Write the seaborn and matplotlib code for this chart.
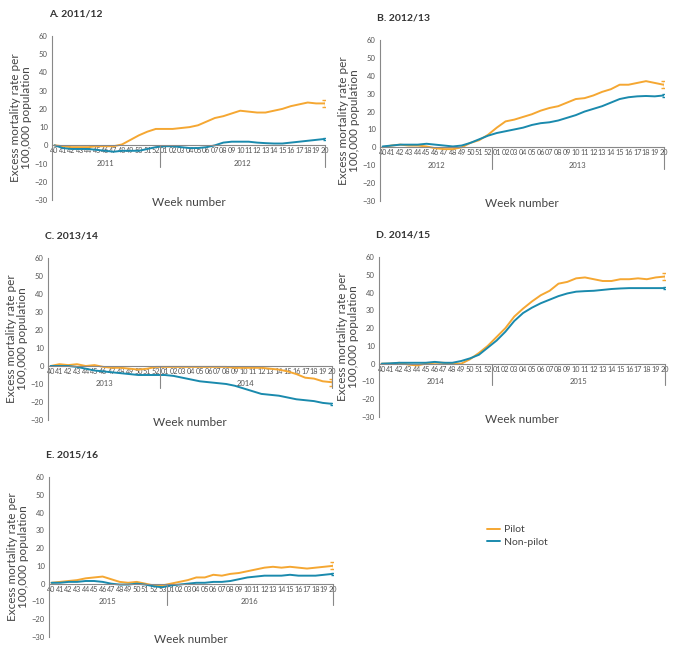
import numpy as np
import pandas as pd
import matplotlib.pyplot as plt
import seaborn as sns

# week labels
weeks_a = [str(w) for w in range(40, 53)] + ["%02d" % w for w in range(1, 21)]
weeks_e = [str(w) for w in range(40, 54)] + ["%02d" % w for w in range(1, 21)]

# excess mortality per 100,000
pilot_a = [0, -0.5, -1, -1, -1, -0.5, -0.5, -0.5, 0.5, 3, 5.5, 7.5, 9,
           9, 9, 9.5, 10, 11, 13, 15, 16, 17.5, 19, 18.5, 18, 18, 19, 20, 21.5, 22.5, 23.5, 23, 23]
nonpilot_a = [0, -1.5, -2, -2, -2, -2.5, -3, -3.5, -3, -3, -3, -2, -1,
              -0.5, -0.5, -1, -1.5, -1.5, -1, 0, 1.5, 2, 2, 2, 1.5, 1.2, 1, 1, 1.5, 2, 2.5, 3, 3.5]

pilot_b = [0, 1, 1.5, 1, 1, 0.5, -0.5, -1, -1, 0, 2.5, 4, 7,
           11, 14.5, 15.5, 17, 18.5, 20.5, 22, 23, 25, 27, 27.5, 29, 31, 32.5, 35, 35, 36, 37, 36, 35]
nonpilot_b = [0.5, 1, 1.5, 1.5, 1.5, 2, 1.5, 1, 0.5, 1, 2.5, 4.5, 6.5,
              8, 9, 10, 11, 12.5, 13.5, 14, 15, 16.5, 18, 20, 21.5, 23, 25, 27, 28, 28.5, 28.7, 28.5, 29]

pilot_c = [0, 1, 0.5, 1, 0, 0.5, -0.5, -1, -1, -1.5, -2, -1.5, -0.5,
           -0.5, -0.5, -0.5, -0.5, -0.5, -0.5, -0.5, -0.5, -1, -1, -1, -1, -1.5, -2, -3, -4.5, -6.5, -7, -8.5, -9]
nonpilot_c = [0, 0, 0, -0.5, -1.5, -2.5, -3, -3.5, -4, -4.5, -5, -5, -5,
              -5, -5.5, -6.5, -7.5, -8.5, -9, -9.5, -10, -11, -12.5, -14, -15.5, -16, -16.5, -17.5, -18.5, -19, -19.5, -20.5, -21]

pilot_d = [0, 0, 0.5, -0.5, -1, 0, 0.5, 0.5, 0, 0, 2.5, 6, 10,
           15, 20, 26.5, 31, 35, 38.5, 41, 45, 46, 48, 48.5, 47.5, 46.5, 46.5, 47.5, 47.5, 48, 47.5, 48.5, 49]
nonpilot_d = [0, 0.2, 0.5, 0.5, 0.5, 0.5, 1, 0.5, 0.5, 1.5, 3, 5, 9,
              13, 18, 24, 28.5, 31.5, 34, 36, 38, 39.5, 40.5, 40.8, 41, 41.5, 42, 42.3, 42.5, 42.5, 42.5, 42.5, 42.5]

pilot_e = [0.5, 1, 1.5, 2, 3, 3.5, 4, 2.5, 1, 0.5, 1, 0, -1, -1,
           0, 1, 2, 3.5, 3.5, 5, 4.5, 5.5, 6, 7, 8, 9, 9.5, 9, 9.5, 9, 8.5, 9, 9.5, 10]
nonpilot_e = [0.5, 0.5, 1, 1, 1.5, 1.5, 1, 0, -0.5, -0.5, 0, -0.5, -1.5, -2,
              -1, -0.5, 0, 0.5, 0.5, 1, 1, 1.5, 2.5, 3.5, 4, 4.5, 4.5, 4.5, 5, 4.5, 4.5, 4.5, 5, 5.5]

# error at last week
err_pilot = [2, 2, 2, 2, 2]
err_nonpilot = [0.5, 0.7, 0.5, 0.7, 0.6]

titles = ["A. 2011/12", "B. 2012/13", "C. 2013/14", "D. 2014/15", "E. 2015/16"]
years = [("2011", "2012"), ("2012", "2013"), ("2013", "2014"), ("2014", "2015"), ("2015", "2016")]

orange = "#f5a732"
teal = "#1a8aad"
grey = "#555555"

sns.set_style("white")
plt.rcParams['font.family'] = ['Lato', 'DejaVu Sans']

fig = plt.figure(figsize=(6.76, 6.55), dpi=100)

# axes boxes in pixels: left, top(60), right(wk 20), bottom(-30)
boxes = [(52, 36, 325, 200), (380, 40, 664, 201),
         (48, 258, 332, 420), (379, 257, 665, 417),
         (49, 477, 333, 637)]

panels = [(pilot_a, nonpilot_a, weeks_a), (pilot_b, nonpilot_b, weeks_a),
          (pilot_c, nonpilot_c, weeks_a), (pilot_d, nonpilot_d, weeks_a),
          (pilot_e, nonpilot_e, weeks_e)]

W, H = 676, 655
for i, (p, n, wk) in enumerate(panels):
    l, t, r, b = boxes[i]
    ax = fig.add_axes([l / W, 1 - b / H, (r - l) / W, (b - t) / H])
    k = len(wk)
    df = pd.DataFrame({
        "pos": list(range(k)) * 2,
        "value": p + n,
        "group": ["Pilot"] * k + ["Non-pilot"] * k,
    })
    sns.lineplot(data=df, x="pos", y="value", hue="group",
                 palette={"Pilot": orange, "Non-pilot": teal},
                 linewidth=1.4, ax=ax, legend=(i == 0))
    ax.errorbar([k - 1], [p[-1]], yerr=[err_pilot[i]], color=orange,
                capsize=2.5, lw=1, capthick=1)
    ax.errorbar([k - 1], [n[-1]], yerr=[err_nonpilot[i]], color=teal,
                capsize=1.5, lw=1, capthick=1)

    ax.set_xlim(-0.3, k - 1 + 0.05)
    ax.set_ylim(-30, 60)
    ax.set_yticks(range(-30, 61, 10))
    ax.set_xticks(range(k))
    ax.set_xticklabels(wk)
    ax.tick_params(axis="x", labelsize=5.2, colors=grey, length=2, direction="in", pad=1.5)
    ax.tick_params(axis="y", labelsize=5.5, colors=grey, length=2, direction="out", pad=1)
    for sp in ["top", "right"]:
        ax.spines[sp].set_visible(False)
    ax.spines["bottom"].set_position(("data", 0))
    for sp in ["left", "bottom"]:
        ax.spines[sp].set_color("#888888")
        ax.spines[sp].set_linewidth(0.8)

    nfirst = wk.index("01")
    sep = nfirst - 0.5
    ax.plot([sep, sep], [0, -12], color="#888888", lw=0.8, clip_on=False)
    ax.plot([k - 1, k - 1], [0, -12], color="#888888", lw=0.8, clip_on=False)
    ax.text((sep - 0.3) / 2, -10, years[i][0], ha="center", va="center", fontsize=5.5, color=grey)
    ax.text((sep + k - 1) / 2, -10, years[i][1], ha="center", va="center", fontsize=5.5, color=grey)

    ax.set_xlabel("")
    ax.text(0.5, -0.015, "Week number", transform=ax.transAxes, ha="center", va="center",
            fontsize=8.5, color="#444444")
    ax.set_ylabel("Excess mortality rate per\n100,000 population", fontsize=8.5,
                  color="#444444", labelpad=2, linespacing=1.0)
    ax.set_title(titles[i], loc="left", fontsize=7.5, fontweight="bold", color="#333333",
                 pad=14, x=-0.01)

    if i == 0:
        handles, labels = ax.get_legend_handles_labels()
        ax.get_legend().remove()
        fig.legend(handles[::-1] if labels[0] == "Non-pilot" else handles,
                   ["Pilot", "Non-pilot"] if labels[0] == "Pilot" else labels[::-1],
                   loc="center left", bbox_to_anchor=(478 / W, 1 - 536 / H),
                   frameon=False, fontsize=7.5, handlelength=1.2, handletextpad=0.4,
                   labelspacing=0.3, labelcolor="#444444")

fig.savefig("out.png", dpi=100)
